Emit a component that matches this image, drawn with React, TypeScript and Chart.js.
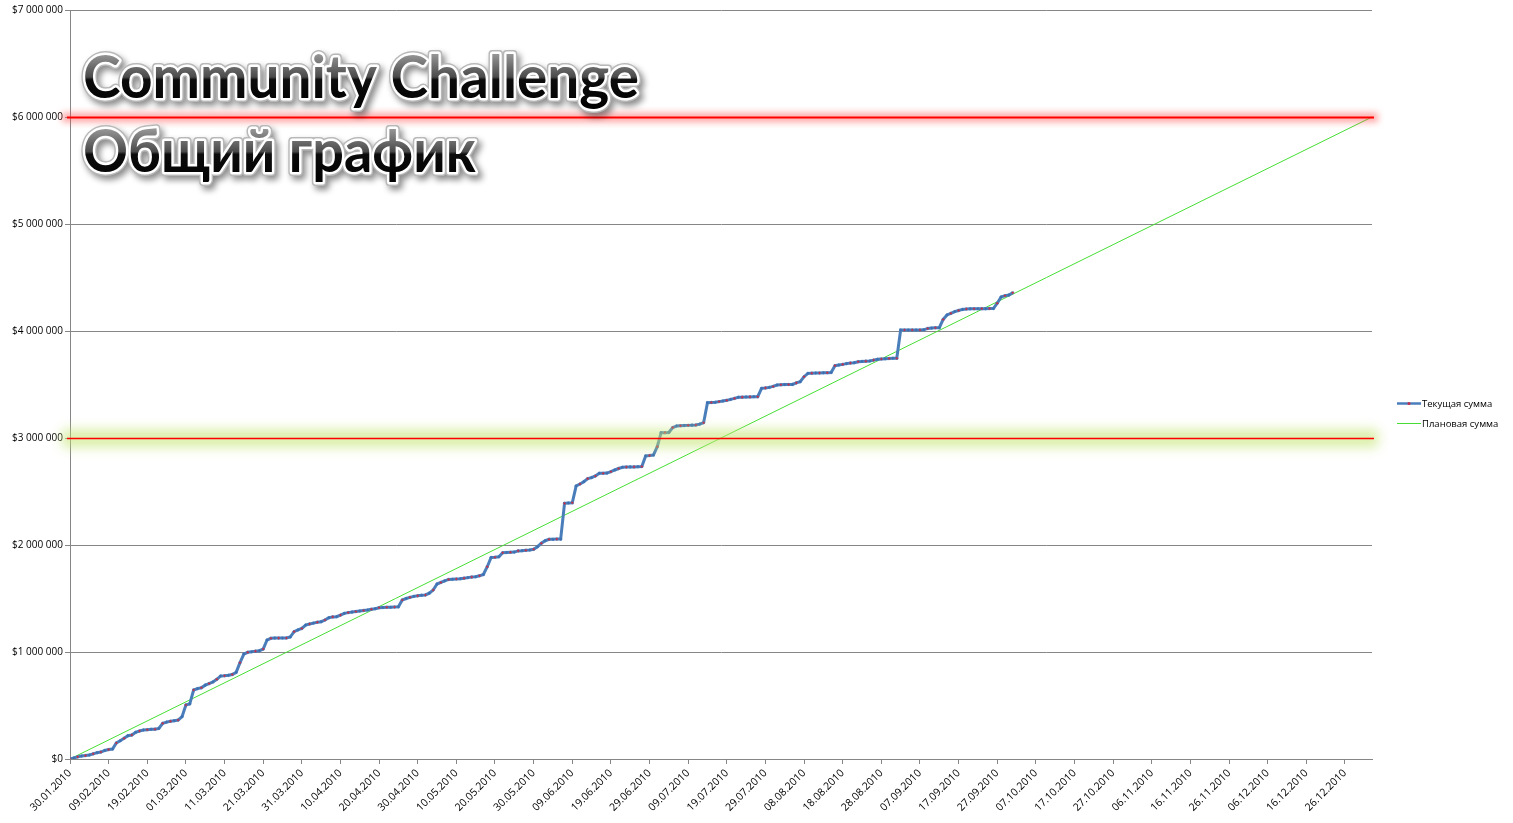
import React, { useEffect, useRef } from "react";
import { Chart, registerables } from "chart.js";

Chart.register(...registerables);

// ---------- DATA ----------
const X_TICK_LABELS = [
  "30.01.2010", "09.02.2010", "19.02.2010", "01.03.2010", "11.03.2010", "21.03.2010",
  "31.03.2010", "10.04.2010", "20.04.2010", "30.04.2010", "10.05.2010", "20.05.2010",
  "30.05.2010", "09.06.2010", "19.06.2010", "29.06.2010", "09.07.2010", "19.07.2010",
  "29.07.2010", "08.08.2010", "18.08.2010", "28.08.2010", "07.09.2010", "17.09.2010",
  "27.09.2010", "07.10.2010", "17.10.2010", "27.10.2010", "06.11.2010", "16.11.2010",
  "26.11.2010", "06.12.2010", "16.12.2010", "26.12.2010",
];

const X_MAX_DAY = 337;
const Y_MAX = 7000000;
const Y_STEP = 1000000;

// Текущая сумма, in thousands of dollars, one value per day from 30.01.2010
const CURRENT_SUM_K = [
  0, 10, 20, 28, 32, 37, 48, 59, 65, 80,
  88, 93, 150, 171, 193, 218, 224, 250, 262, 271,
  274, 277, 279, 286, 333, 345, 352, 358, 364, 396,
  505, 515, 645, 658, 666, 690, 705, 720, 745, 776,
  778, 782, 790, 810, 900, 981, 997, 1002, 1008, 1012,
  1028, 1112, 1128, 1130, 1130, 1131, 1131, 1140, 1190, 1206,
  1220, 1252, 1262, 1270, 1278, 1283, 1299, 1320, 1328, 1330,
  1345, 1361, 1368, 1373, 1378, 1383, 1388, 1393, 1399, 1405,
  1414, 1416, 1418, 1418, 1420, 1422, 1486, 1500, 1511, 1520,
  1525, 1530, 1533, 1550, 1579, 1635, 1650, 1665, 1678, 1680,
  1682, 1684, 1690, 1695, 1700, 1703, 1712, 1724, 1797, 1883,
  1886, 1890, 1928, 1930, 1932, 1934, 1945, 1947, 1950, 1953,
  1960, 1984, 2016, 2040, 2053, 2053, 2055, 2055, 2389, 2392,
  2395, 2551, 2570, 2592, 2620, 2630, 2645, 2670, 2670, 2672,
  2685, 2701, 2715, 2726, 2728, 2730, 2730, 2732, 2734, 2832,
  2836, 2841, 2919, 3050, 3050, 3052, 3097, 3112, 3114, 3116,
  3118, 3120, 3121, 3130, 3143, 3330, 3332, 3334, 3340, 3346,
  3352, 3361, 3370, 3380, 3382, 3383, 3384, 3385, 3386, 3464,
  3468, 3473, 3482, 3495, 3497, 3499, 3500, 3501, 3515, 3526,
  3573, 3604, 3606, 3607, 3608, 3609, 3610, 3612, 3676, 3682,
  3688, 3695, 3700, 3704, 3713, 3716, 3718, 3720, 3728, 3735,
  3738, 3740, 3743, 3745, 3746, 4009, 4009, 4010, 4010, 4010,
  4010, 4011, 4024, 4027, 4030, 4031, 4108, 4150, 4165, 4181,
  4192, 4202, 4205, 4207, 4208, 4208, 4209, 4209, 4210, 4210,
  4260, 4318, 4330, 4336, 4358,
];

// Плановая сумма: straight plan from 0 to 6 000 000 over the year
const PLAN_DAYS = [0, 337];
const PLAN_SUM = [0, 6000000];

const TARGET_LINES = [6000000, 3000000];
const SERIES_NAMES = ["Текущая сумма", "Плановая сумма"];
const TITLE_LINES = ["Community Challenge", "Общий график"];

// ---------- STYLE ----------
const BLUE = "#4a7ebb";
const GREEN = "rgb(70,222,52)";
const GRID = "#868686";
const FONT = "'Open Sans', 'DejaVu Sans', sans-serif";

function formatMoney(v: number): string {
  return "$" + String(Math.round(v)).replace(/\B(?=(\d{3})+(?!\d))/g, " ");
}

const glowLinesPlugin = {
  id: "glowLines",
  afterDatasetsDraw(chart: any) {
    const { ctx, chartArea, scales } = chart;
    const x0 = chartArea.left - 8;
    const x1 = chartArea.right + 6;
    TARGET_LINES.forEach((val, i) => {
      const y = Math.round(scales.y.getPixelForValue(val)) + 0.5;
      ctx.save();
      if (i === 0) {
        ctx.filter = "blur(3px)";
        ctx.fillStyle = "rgba(255,70,70,0.45)";
        ctx.fillRect(x0, y - 5, x1 - x0, 10);
        ctx.filter = "none";
        ctx.strokeStyle = "#ff0000";
        ctx.lineWidth = 2;
      } else {
        ctx.filter = "blur(6px)";
        ctx.fillStyle = "rgba(195,228,110,0.6)";
        ctx.fillRect(x0, y - 9, x1 - x0, 18);
        ctx.filter = "none";
        ctx.strokeStyle = "#ff0000";
        ctx.lineWidth = 1.3;
      }
      ctx.beginPath();
      ctx.moveTo(chartArea.left - 3, y);
      ctx.lineTo(chartArea.right + 2, y);
      ctx.stroke();
      ctx.restore();
    });
  },
};

const overlayPlugin = {
  id: "overlay",
  afterDraw(chart: any) {
    const { ctx, chartArea } = chart;
    // Title
    const titleSpecs = [
      { text: TITLE_LINES[0], left: 83, baseline: 98, cap: 43, width: 556 },
      { text: TITLE_LINES[1], left: 83, baseline: 172, cap: 42, width: 393 },
    ];
    titleSpecs.forEach((t) => {
      const size = t.cap / 0.717;
      ctx.save();
      ctx.font = `bold ${size}px Lato, 'Open Sans', sans-serif`;
      ctx.textBaseline = "alphabetic";
      ctx.textAlign = "left";
      const w = ctx.measureText(t.text).width;
      const sx = t.width / w;
      ctx.translate(t.left, t.baseline);
      ctx.scale(sx, 1);
      ctx.lineJoin = "round";
      ctx.shadowColor = "rgba(0,0,0,0.45)";
      ctx.shadowBlur = 6;
      ctx.shadowOffsetX = 3;
      ctx.shadowOffsetY = 4;
      ctx.strokeStyle = "#b8b8b8";
      ctx.lineWidth = 8;
      ctx.strokeText(t.text, 0, 0);
      ctx.shadowColor = "transparent";
      ctx.strokeStyle = "#ffffff";
      ctx.lineWidth = 5;
      ctx.strokeText(t.text, 0, 0);
      const g = ctx.createLinearGradient(0, -t.cap - 2, 0, 12);
      g.addColorStop(0, "#9a9a9a");
      g.addColorStop(0.42, "#4a4a4a");
      g.addColorStop(0.47, "#0c0c0c");
      g.addColorStop(1, "#000000");
      ctx.fillStyle = g;
      ctx.fillText(t.text, 0, 0);
      ctx.restore();
    });

    // Legend
    const lx = chartArea.right + 25;
    const items = [
      { y: 403, color: BLUE, width: 2.5, marker: true },
      { y: 423, color: GREEN, width: 1, marker: false },
    ];
    ctx.save();
    ctx.font = `9.5px ${FONT}`;
    ctx.textBaseline = "middle";
    ctx.fillStyle = "#000";
    items.forEach((it, i) => {
      ctx.strokeStyle = it.color;
      ctx.lineWidth = it.width;
      ctx.beginPath();
      ctx.moveTo(lx, it.y + 0.5);
      ctx.lineTo(lx + 24, it.y + 0.5);
      ctx.stroke();
      if (it.marker) {
        ctx.fillStyle = "#c0304a";
        ctx.beginPath();
        ctx.arc(lx + 12, it.y + 0.5, 1.5, 0, Math.PI * 2);
        ctx.fill();
      }
      ctx.fillStyle = "#000";
      ctx.fillText(SERIES_NAMES[i], lx + 25, it.y + 1);
    });
    ctx.restore();
  },
};

export default function App() {
  const canvasRef = useRef<HTMLCanvasElement | null>(null);

  useEffect(() => {
    document.body.style.margin = "0";
    const canvas = canvasRef.current;
    if (!canvas) return;

    const currentData = CURRENT_SUM_K.map((v, i) => ({ x: i, y: v * 1000 }));
    const planData = PLAN_DAYS.map((d, i) => ({ x: d, y: PLAN_SUM[i] }));

    const chart = new Chart(canvas, {
      type: "line",
      data: {
        datasets: [
          {
            label: SERIES_NAMES[1],
            data: planData,
            borderColor: GREEN,
            borderWidth: 1,
            pointRadius: 0,
            fill: false,
            order: 2,
          },
          {
            label: SERIES_NAMES[0],
            data: currentData,
            borderColor: BLUE,
            borderWidth: 3,
            pointRadius: 1.3,
            pointBorderWidth: 0.5,
            pointBackgroundColor: (c: any) => (c.dataIndex % 2 === 0 ? "#d4283e" : "#3a6cb0"),
            pointBorderColor: BLUE,
            fill: false,
            order: 1,
          },
        ],
      },
      options: {
        animation: false,
        responsive: true,
        maintainAspectRatio: false,
        layout: { padding: { left: 8, right: 141, top: 10, bottom: 0 } },
        plugins: {
          legend: { display: false },
          tooltip: { enabled: false },
          title: { display: false },
        },
        scales: {
          x: {
            type: "linear",
            min: 0,
            max: X_MAX_DAY,
            afterFit: (s: any) => {
              s.height = 64;
            },
            grid: {
              drawOnChartArea: false,
              drawTicks: true,
              tickLength: 5,
              color: GRID,
            },
            border: { color: GRID, width: 1 },
            ticks: {
              stepSize: 10,
              includeBounds: false,
              autoSkip: false,
              minRotation: 45,
              maxRotation: 45,
              padding: 3,
              color: "#000",
              font: { family: FONT, size: 10.5 },
              callback: (v: any) => {
                const idx = Math.round(Number(v) / 10);
                return Number(v) % 10 === 0 && X_TICK_LABELS[idx] ? X_TICK_LABELS[idx] : "";
              },
            },
          },
          y: {
            type: "linear",
            min: 0,
            max: Y_MAX,
            afterFit: (s: any) => {
              s.width = 62;
            },
            grid: {
              color: GRID,
              lineWidth: 1,
              tickLength: 5,
              drawTicks: true,
            },
            border: { color: GRID, width: 1 },
            ticks: {
              stepSize: Y_STEP,
              padding: 2,
              color: "#000",
              font: { family: FONT, size: 10 },
              callback: (v: any) => formatMoney(Number(v)),
            },
          },
        },
      },
      plugins: [glowLinesPlugin, overlayPlugin],
    });

    return () => chart.destroy();
  }, []);

  return (
    <div style={{ width: "1513px", height: "823px", position: "relative", background: "#fff" }}>
      <canvas ref={canvasRef} />
    </div>
  );
}
